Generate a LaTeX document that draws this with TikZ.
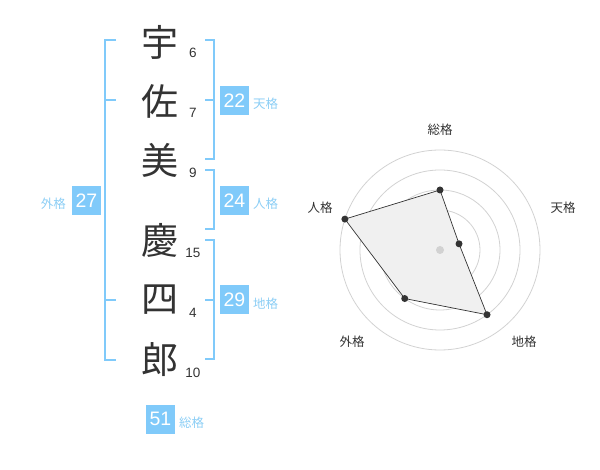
\documentclass[tikz,border=0pt]{standalone}
\usepackage{fontspec}
\setmainfont{Liberation Sans}
\newfontfamily\cjk{Noto Sans CJK JP}
\definecolor{blu}{RGB}{128,202,250}
\definecolor{lblu}{RGB}{140,206,245}
\definecolor{ink}{RGB}{51,51,51}
\definecolor{ring}{RGB}{210,210,210}
\definecolor{polyfill}{RGB}{240,240,240}
\begin{document}
\begin{tikzpicture}[x=1pt,y=-1pt,
  kanji/.style={font=\cjk\fontsize{37}{37}\selectfont,text=ink,inner sep=0pt},
  stroke/.style={font=\fontsize{13.5}{14}\selectfont,text=ink,inner sep=0pt},
  numbox/.style={fill=blu,text=white,font=\fontsize{19.5}{20}\selectfont,minimum width=29pt,minimum height=29pt,inner sep=0pt},
  kaku/.style={font=\cjk\fontsize{12.5}{13}\selectfont,text=lblu,inner sep=0pt},
  brk/.style={draw=blu,line width=1.6pt},
  rlabel/.style={font=\cjk\fontsize{12.5}{13}\selectfont,text=ink,inner sep=0pt},
  dot/.style={circle,fill=ink,inner sep=0pt,minimum size=7pt}]
\useasboundingbox (0,0) rectangle (600,470);
% characters
\node[kanji] (c1) at (160,42) {宇};
\node[kanji] (c2) at (160,101) {佐};
\node[kanji] (c3) at (160,160) {美};
\node[kanji] (c4) at (160,240) {慶};
\node[kanji] (c5) at (160,300) {四};
\node[kanji] (c6) at (160,360) {郎};
\node[stroke] (n1) at (193,53) {6};
\node[stroke] (n2) at (193,113) {7};
\node[stroke] (n3) at (193,173) {9};
\node[stroke] (n4) at (193,253) {15};
\node[stroke] (n5) at (193,313) {4};
\node[stroke] (n6) at (193,373) {10};
% left bracket
\draw[brk] (116,40) -- (105,40) -- (105,360) -- (116,360);
\draw[brk] (105,100) -- (116,100);
\draw[brk] (105,300) -- (116,300);
% right brackets
\draw[brk] (205,40) -- (214,40) -- (214,159) -- (205,159);
\draw[brk] (205,100) -- (214,100);
\draw[brk] (205,170) -- (214,170) -- (214,229) -- (205,229);
\draw[brk] (205,240) -- (214,240) -- (214,359) -- (205,359);
\draw[brk] (205,300) -- (214,300);
% boxes
\node[numbox] (b22) at (234.5,100.5) {22};
\node[kaku,anchor=west] (k22) at (253,104) {天格};
\node[numbox] (b24) at (234.5,200.5) {24};
\node[kaku,anchor=west] (k24) at (253,204) {人格};
\node[numbox] (b27) at (86.5,200.5) {27};
\node[kaku,anchor=east] (k27) at (66,204) {外格};
\node[numbox] (b29) at (234.5,300) {29};
\node[kaku,anchor=west] (k29) at (253,304) {地格};
\node[numbox] (b51) at (160.5,419) {51};
\node[kaku,anchor=west] (k51) at (179,422.5) {総格};
% radar
\coordinate (O) at (440,250);
\foreach \r in {20,40,60,80,100} \draw[ring,line width=0.8pt] (O) circle[radius=\r];
\path (O) ++(-90:60) coordinate (p1);
\path (O) ++(-18:20) coordinate (p2);
\path (O) ++(54:80) coordinate (p3);
\path (O) ++(126:60) coordinate (p4);
\path (O) ++(198:100) coordinate (p5);
\filldraw[fill=polyfill,draw=ink,line width=0.7pt] (p1) -- (p2) -- (p3) -- (p4) -- (p5) -- cycle;
\node[circle,fill=ring,inner sep=0pt,minimum size=8pt] (ctr) at (O) {};
\foreach \p in {p1,p2,p3,p4,p5} \node[dot] at (\p) {};
\node[rlabel] (l1) at (440,130) {総格};
\node[rlabel] (l2) at (563,208) {天格};
\node[rlabel] (l3) at (524,342) {地格};
\node[rlabel] (l4) at (352,342) {外格};
\node[rlabel] (l5) at (320,208) {人格};
\end{tikzpicture}
\end{document}
